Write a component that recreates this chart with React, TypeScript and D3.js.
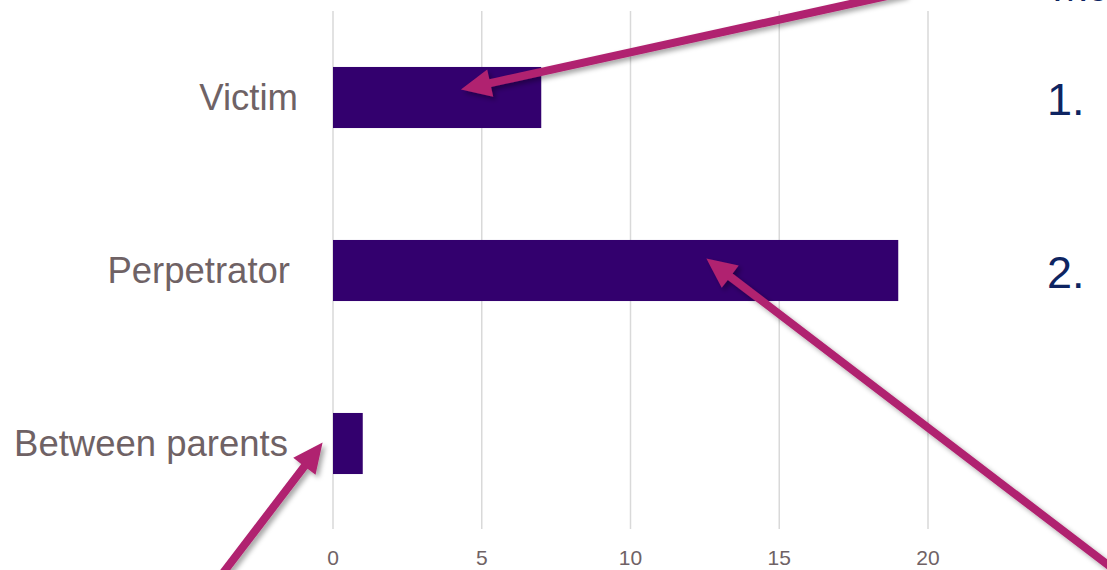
import React from "react";
import * as d3 from "d3";

const categories = ["Victim", "Perpetrator", "Between parents"];
const counts = [7, 19, 1];
const tickValues = [0, 5, 10, 15, 20];
const listMarkers = ["1.", "2."];
const headingText = "Main findings";

const W = 1107;
const H = 570;

const BAR = "#33006E";
const ARROW = "#B0236F";
const LABEL = "#6F6265";
const NAVY = "#0E2461";
const GRID = "#D9D9D9";

// nudges for the category labels, keyed by category
const labelShift: Record<string, number> = { Victim: 9, Perpetrator: 1, "Between parents": -1 };

export default function App() {
  const x = d3.scaleLinear().domain([0, 20]).range([333, 928]);
  const y = d3
    .scaleBand<string>()
    .domain(categories)
    .range([11, 530])
    .paddingInner(0.647)
    .paddingOuter(0.3235);

  const barCenter = (c: string) => (y(c) ?? 0) + y.bandwidth() / 2;

  // pointer arrows: tail -> tip, tips sit on the bars
  const arrows = [
    { from: [905, -8], to: [x(4.3), barCenter("Victim") - 8] },
    { from: [1125, 578], to: [x(12.55), barCenter("Perpetrator") - 12] },
    { from: [210, 590], to: [x(-0.35), barCenter("Between parents") - 1] },
  ];

  const arrowPath = (from: number[], to: number[]) => {
    const [x1, y1] = from;
    const [x2, y2] = to;
    const dx = x2 - x1;
    const dy = y2 - y1;
    const len = Math.hypot(dx, dy);
    const ux = dx / len;
    const uy = dy / len;
    const nx = -uy;
    const ny = ux;
    const headLen = 30;
    const headHalf = 14;
    const shaft = 4;
    const bx = x2 - ux * headLen;
    const by = y2 - uy * headLen;
    const p = d3.path();
    p.moveTo(x1 + nx * shaft, y1 + ny * shaft);
    p.lineTo(bx + nx * shaft, by + ny * shaft);
    p.lineTo(bx + nx * headHalf, by + ny * headHalf);
    p.lineTo(x2, y2);
    p.lineTo(bx - nx * headHalf, by - ny * headHalf);
    p.lineTo(bx - nx * shaft, by - ny * shaft);
    p.lineTo(x1 - nx * shaft, y1 - ny * shaft);
    p.closePath();
    return p.toString();
  };

  return (
    <svg
      width={W}
      height={H}
      style={{ position: "absolute", left: 0, top: 0, fontFamily: "'Liberation Sans', Arial, sans-serif" }}
    >
      <defs>
        <filter id="shadow" x="-20%" y="-20%" width="140%" height="140%">
          <feDropShadow dx="3" dy="3" stdDeviation="2.5" floodColor="#000" floodOpacity="0.35" />
        </filter>
      </defs>
      <rect width={W} height={H} fill="#fff" />

      {tickValues.map((t) => (
        <g key={t}>
          <line x1={x(t)} x2={x(t)} y1={11} y2={529} stroke={GRID} strokeWidth={1.5} />
          <text x={x(t)} y={565} textAnchor="middle" fontSize={21} fill={LABEL}>
            {t}
          </text>
        </g>
      ))}

      {categories.map((c, i) => (
        <g key={c}>
          <rect x={x(0)} y={y(c)} width={x(counts[i]) - x(0)} height={y.bandwidth()} fill={BAR} />
          <text
            x={x(0) - 44 + labelShift[c]}
            y={barCenter(c) + 12}
            textAnchor="end"
            fontSize={36.5}
            fill={LABEL}
          >
            {c}
          </text>
        </g>
      ))}

      <text x={1052} y={1} fontSize={44} fill={NAVY}>
        {headingText}
      </text>
      {listMarkers.map((m, i) => (
        <text key={m} x={1047} y={115 + i * 173} fontSize={45} fill={NAVY}>
          {m}
        </text>
      ))}

      {arrows.map((a, i) => (
        <path key={i} d={arrowPath(a.from, a.to)} fill={ARROW} filter="url(#shadow)" />
      ))}
    </svg>
  );
}
